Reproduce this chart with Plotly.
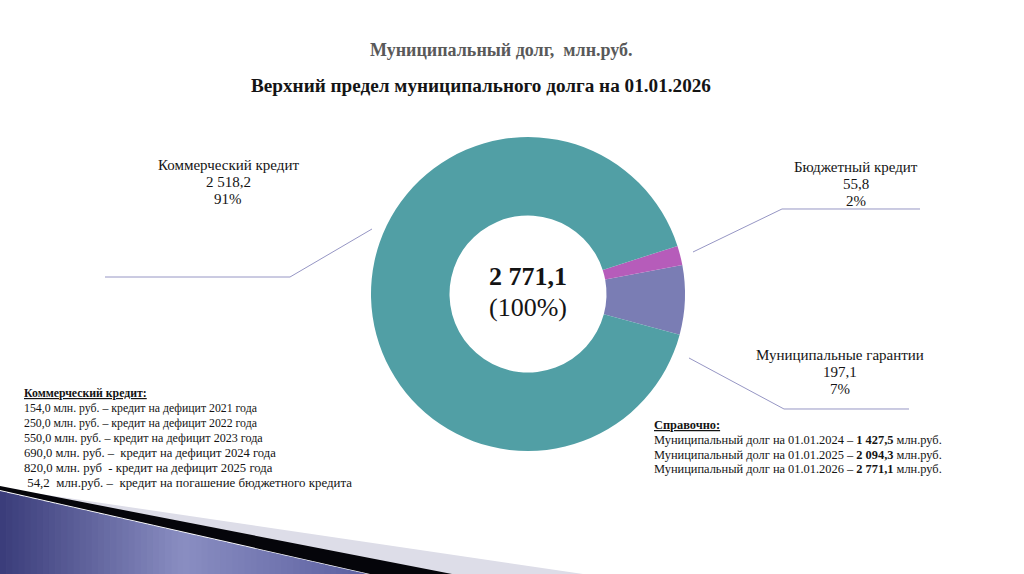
import plotly.graph_objects as go

W, H = 1024, 574

# data
labels = ['Муниципальные гарантии', 'Бюджетный кредит', 'Коммерческий кредит']
values = [197.1, 55.8, 2518.2]
value_text = ['197,1', '55,8', '2 518,2']
shares = ['7%', '2%', '91%']
colors = ['rgb(122,125,180)', 'rgb(182,92,186)', 'rgb(81,159,165)']
total_text = '2 771,1'

commercial_notes = [
    '<b><u>Коммерческий кредит:</u></b>',
    '154,0 млн. руб. – кредит на дефицит 2021 года',
    '250,0 млн. руб. – кредит на дефицит 2022 года',
    '550,0 млн. руб. – кредит на дефицит 2023 года',
    '690,0 млн. руб. –  кредит на дефицит 2024 года',
    '820,0 млн. руб  - кредит на дефицит 2025 года',
    ' 54,2  млн.руб. –  кредит на погашение бюджетного кредита',
]
note_sizes = [11.8, 11.8, 11.8, 12.1, 12.6, 12.7, 12.9]
ref_dates = ['01.01.2024', '01.01.2025', '01.01.2026']
ref_values = ['1 427,5', '2 094,3', '2 771,1']

FONT = 'Liberation Serif'
BLACK = 'rgb(20,20,20)'
LINE = 'rgb(150,150,196)'


def px(x):
    return x / W


def py(y):
    return 1 - y / H


fig = go.Figure()

# donut: centre (528, 294), radius 157
cx, cy, r = 528, 294, 157
fig.add_trace(go.Pie(
    labels=labels, values=values,
    marker=dict(colors=colors, line=dict(width=0)),
    hole=0.5, sort=False, direction='counterclockwise', rotation=79.4,
    textinfo='none', hoverinfo='label+value+percent', showlegend=False,
    domain=dict(x=[px(cx - r), px(cx + r)], y=[py(cy + r), py(cy - r)]),
))

annotations = []


def add_text(text, x, y, size, xanchor='center', color=BLACK, align='center'):
    annotations.append(dict(
        text=text, x=px(x), y=py(y), xref='paper', yref='paper',
        xanchor=xanchor, yanchor='middle', showarrow=False, align=align,
        font=dict(family=FONT, size=size, color=color),
    ))


add_text('<b>Муниципальный долг,  млн.руб.</b>', 501, 50, 18, color='rgb(89,89,89)')
add_text('<b>Верхний предел муниципального долга на 01.01.2026</b>', 481, 85, 19.2)

add_text('<b>' + total_text + '</b>', 528, 277, 26)
add_text('(100%)', 528, 307, 26)

# slice labels, one annotation per line
label_pos = {0: (840, 355), 1: (856, 167), 2: (228, 165)}
for i, (x, y) in label_pos.items():
    for k, line in enumerate([labels[i], value_text[i], shares[i]]):
        add_text(line, x, y + k * 17, 15)

# left notes
for k, (line, size) in enumerate(zip(commercial_notes, note_sizes)):
    add_text(line, 22, 393 + k * 15, size, xanchor='left', align='left')

# right notes
add_text('<b><u>Справочно:</u></b>', 652, 425, 12.4, xanchor='left', align='left')
for k, (d, v) in enumerate(zip(ref_dates, ref_values)):
    add_text('Муниципальный долг на ' + d + ' – <b>' + v + '</b> млн.руб.',
             652, 440 + k * 14.7, 12.4, xanchor='left', align='left')

shapes = []


def path(points, fill=None, line_color=None, width=1):
    d = 'M ' + ' L '.join(f'{px(x):.5f},{py(y):.5f}' for x, y in points)
    if fill:
        d += ' Z'
    shapes.append(dict(
        type='path', path=d, xref='paper', yref='paper', layer='below',
        fillcolor=fill if fill else 'rgba(0,0,0,0)',
        line=dict(color=line_color if line_color else 'rgba(0,0,0,0)', width=width),
    ))


# leader lines
path([(105, 277), (290, 277), (372, 229)], line_color=LINE)
path([(693, 252), (782, 209), (920, 209)], line_color=LINE)
path([(689, 358), (784, 409), (909, 409)], line_color=LINE)

# decorative swoosh bottom-left
path([(0, 488), (583, 574), (0, 574)], fill='rgb(221,221,232)')
path([(0, 486), (452, 574), (0, 574)], fill='rgb(5,5,10)')
path([(0, 490), (370, 574), (0, 574)], fill='white')
n = 60
x_end = 367
for k in range(n):
    x0 = x_end * k / n
    x1 = min(x_end * (k + 1) / n + 0.8, x_end)
    t = (x0 + x1) / 2 / x_end
    if t < 0.5:
        f = t / 0.5
        c = [58 + (138 - 58) * f, 60 + (142 - 60) * f, 122 + (194 - 122) * f]
    else:
        f = (t - 0.5) / 0.5
        c = [138 + (92 - 138) * f, 142 + (96 - 142) * f, 194 + (160 - 194) * f]
    top0 = 491 + x0 * 83 / x_end
    top1 = 491 + x1 * 83 / x_end
    path([(x0, top0), (x1, top1), (x1, 574), (x0, 574)],
         fill='rgb(%d,%d,%d)' % tuple(int(v) for v in c))

fig.update_layout(
    width=W, height=H,
    margin=dict(l=0, r=0, t=0, b=0),
    paper_bgcolor='white', plot_bgcolor='white',
    font=dict(family=FONT, color=BLACK),
    annotations=annotations, shapes=shapes,
)

fig.write_html('out.html', config={'displayModeBar': False},
               post_script="document.body.style.margin='0';")
